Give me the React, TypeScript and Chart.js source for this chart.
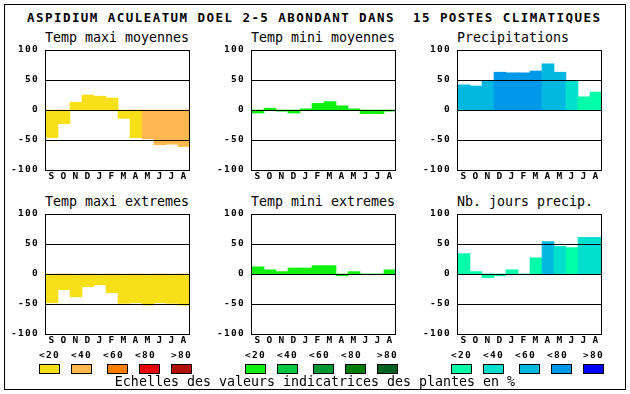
import React, { useEffect, useRef } from "react";
import { Chart, registerables } from "chart.js";

Chart.register(...registerables);

// ---------- data ----------
const months = ["S", "O", "N", "D", "J", "F", "M", "A", "M", "J", "J", "A"];
const yTickValues = [-100, -50, 0, 50, 100];
const scaleLabels = ["<20", "<40", "<60", "<80", ">80"];

const mainTitle = "ASPIDIUM ACULEATUM DOEL 2-5 ABONDANT DANS  15 POSTES CLIMATIQUES";
const footerText = "Echelles des valeurs indicatrices des plantes en %";

const tempMaxiMoy = [-46, -23, 13, 25, 23, 20, -14, -46, -48, -58, -57, -61];
const tempMaxiMoyLvl = [0, 0, 0, 0, 0, 0, 0, 0, 1, 1, 1, 1];

const tempMiniMoy = [-5, 3, -2, -5, 2, 11, 14, 7, 2, -6, -6, -2];
const tempMiniMoyLvl = [0, 0, 0, 0, 0, 0, 0, 0, 0, 0, 0, 0];

const precip = [42, 40, 49, 63, 62, 62, 65, 77, 63, 49, 22, 30];
const precipLvl = [2, 2, 2, 3, 3, 3, 3, 2, 2, 1, 0, 0];

const tempMaxiExt = [-48, -26, -38, -21, -18, -31, -49, -48, -52, -48, -49, -52];
const tempMaxiExtLvl = [0, 0, 0, 0, 0, 0, 0, 0, 0, 0, 0, 0];

const tempMiniExt = [12, 7, 4, 10, 10, 14, 14, -3, 4, 0, 0, 7];
const tempMiniExtLvl = [0, 0, 0, 0, 0, 0, 0, 0, 0, 0, 0, 0];

const joursPrecip = [34, 4, -6, -3, 7, 0, 27, 54, 46, 44, 61, 61];
const joursPrecipLvl = [0, 0, 0, 0, 0, 0, 0, 2, 1, 0, 1, 1];

const warmColors = ["#f8e018", "#ffb850", "#ff8000", "#e80000", "#b01000"];
const greenColors = ["#10f010", "#00c840", "#009830", "#007c00", "#006020"];
const blueColors = ["#00ffa8", "#00e0cc", "#00b8e0", "#0098e8", "#0000ff"];

const panels = [
  { title: "Temp maxi moyennes", values: tempMaxiMoy, levels: tempMaxiMoyLvl, palette: warmColors },
  { title: "Temp mini moyennes", values: tempMiniMoy, levels: tempMiniMoyLvl, palette: greenColors },
  { title: "Precipitations", values: precip, levels: precipLvl, palette: blueColors },
  { title: "Temp maxi extremes", values: tempMaxiExt, levels: tempMaxiExtLvl, palette: warmColors },
  { title: "Temp mini extremes", values: tempMiniExt, levels: tempMiniExtLvl, palette: greenColors },
  { title: "Nb. jours precip.", values: joursPrecip, levels: joursPrecipLvl, palette: blueColors },
];

const palettes = [warmColors, greenColors, blueColors];

// ---------- layout constants ----------
const PLOT_L0 = 45;
const PLOT_T0 = 50;
const COL_STEP = 206;
const ROW_STEP = 164;
const AXIS_W = 46;
const PAD_TOP = 8;
const PAD_RIGHT = 8;
const X_AXIS_H = 16;
const PLOT_W = 144;
const PLOT_H = 120;
const CANVAS_W = AXIS_W + PLOT_W + PAD_RIGHT;
const CANVAS_H = PAD_TOP + PLOT_H + X_AXIS_H;

const MONO = "'DejaVu Sans Mono', monospace";

const framePlugin = {
  id: "framePlugin",
  beforeDraw(chart: any) {
    (chart.ctx as any).letterSpacing = "1.3px";
  },
  afterDatasetsDraw(chart: any) {
    const { ctx, chartArea } = chart;
    const y = chart.scales.y;
    ctx.save();
    ctx.strokeStyle = "#000";
    ctx.lineWidth = 1;
    ctx.beginPath();
    for (const v of yTickValues) {
      const py = Math.round(y.getPixelForValue(v)) + 0.5;
      ctx.moveTo(chartArea.left - 1, py);
      ctx.lineTo(chartArea.right, py);
    }
    const top = Math.round(y.getPixelForValue(100)) + 0.5;
    const bot = Math.round(y.getPixelForValue(-100)) + 0.5;
    ctx.moveTo(chartArea.left - 0.5, top);
    ctx.lineTo(chartArea.left - 0.5, bot);
    ctx.moveTo(chartArea.right - 0.5, top);
    ctx.lineTo(chartArea.right - 0.5, bot);
    ctx.stroke();
    ctx.restore();
  },
};

function Panel({ idx }: { idx: number }) {
  const ref = useRef<HTMLCanvasElement | null>(null);
  const p = panels[idx];
  const col = idx % 3;
  const row = Math.floor(idx / 3);
  const L = PLOT_L0 + COL_STEP * col;
  const T = PLOT_T0 + ROW_STEP * row;

  useEffect(() => {
    if (!ref.current) return;
    const chart = new Chart(ref.current, {
      type: "bar",
      data: {
        labels: months,
        datasets: [
          {
            data: p.values,
            backgroundColor: p.levels.map((l) => p.palette[l]),
            borderWidth: 0,
            categoryPercentage: 1,
            barPercentage: 1,
          },
        ],
      },
      options: {
        animation: false,
        responsive: false,
        devicePixelRatio: 1,
        layout: { padding: { top: PAD_TOP, right: PAD_RIGHT, left: 0, bottom: 0 } },
        plugins: { legend: { display: false }, tooltip: { enabled: false }, title: { display: false } },
        scales: {
          x: {
            grid: { display: false, drawTicks: false },
            border: { display: false },
            ticks: {
              color: "#000",
              font: { family: MONO, size: 9.5, weight: "bold" },
              padding: 1,
              maxRotation: 0,
              autoSkip: false,
            },
            afterFit: (s: any) => {
              s.height = X_AXIS_H;
              s.paddingLeft = 0;
              s.paddingRight = 0;
            },
          },
          y: {
            min: -100,
            max: 100,
            grid: { display: false, drawTicks: false },
            border: { display: false },
            afterBuildTicks: (s: any) => {
              s.ticks = yTickValues.map((v) => ({ value: v }));
            },
            ticks: {
              color: "#000",
              font: { family: MONO, size: 9.5, weight: "bold" },
              padding: 7,
            },
            afterFit: (s: any) => {
              s.width = AXIS_W;
              s.paddingTop = 0;
              s.paddingBottom = 0;
            },
          },
        },
      },
      plugins: [framePlugin],
    } as any);
    return () => chart.destroy();
  }, [idx]);

  return (
    <>
      <div
        style={{
          position: "absolute",
          left: L,
          top: T - 18.6,
          fontFamily: MONO,
          fontSize: 13.3,
          lineHeight: "14px",
          whiteSpace: "pre",
          color: "#000",
        }}
      >
        {p.title}
      </div>
      <canvas
        ref={ref}
        width={CANVAS_W}
        height={CANVAS_H}
        style={{
          position: "absolute",
          left: L - 45,
          top: T - PAD_TOP,
          width: CANVAS_W,
          height: CANVAS_H,
        }}
      />
    </>
  );
}

const legendLabelOffsets = [0, 32, 64, 96, 132];
const legendBoxOffsets = [0, 32, 68, 100, 132];

export default function App() {
  return (
    <div
      style={{
        position: "fixed",
        left: 0,
        top: 0,
        width: 630,
        height: 394,
        background: "#fff",
        overflow: "hidden",
      }}
    >
      <div
        style={{
          position: "absolute",
          left: 4,
          top: 4,
          width: 622,
          height: 386,
          border: "1px solid #000",
          boxSizing: "border-box",
        }}
      />
      <div
        style={{
          position: "absolute",
          left: 27,
          top: 10.7,
          fontFamily: MONO,
          fontSize: 12.5,
          fontWeight: "bold",
          letterSpacing: "1.45px",
          lineHeight: "14px",
          whiteSpace: "pre",
          color: "#000",
        }}
      >
        {mainTitle}
      </div>
      {panels.map((_, i) => (
        <Panel key={i} idx={i} />
      ))}
      {palettes.map((pal, g) => (
        <React.Fragment key={g}>
          {scaleLabels.map((lab, k) => (
            <div
              key={"l" + k}
              style={{
                position: "absolute",
                left: 39 + 206 * g + legendLabelOffsets[k],
                top: 347.7,
                fontFamily: MONO,
                fontSize: 9.5,
                fontWeight: "bold",
                letterSpacing: "1.3px",
                lineHeight: "14px",
                whiteSpace: "pre",
                color: "#000",
              }}
            >
              {lab}
            </div>
          ))}
          {pal.map((c, k) => (
            <div
              key={"b" + k}
              style={{
                position: "absolute",
                left: 39 + 206 * g + legendBoxOffsets[k],
                top: 364,
                width: 21,
                height: 10,
                background: c,
                border: "1px solid #000",
                boxSizing: "border-box",
              }}
            />
          ))}
        </React.Fragment>
      ))}
      <div
        style={{
          position: "absolute",
          left: 0,
          width: 630,
          top: 375.4,
          textAlign: "center",
          fontFamily: MONO,
          fontSize: 13.3,
          lineHeight: "14px",
          whiteSpace: "pre",
          color: "#000",
        }}
      >
        {footerText}
      </div>
    </div>
  );
}
